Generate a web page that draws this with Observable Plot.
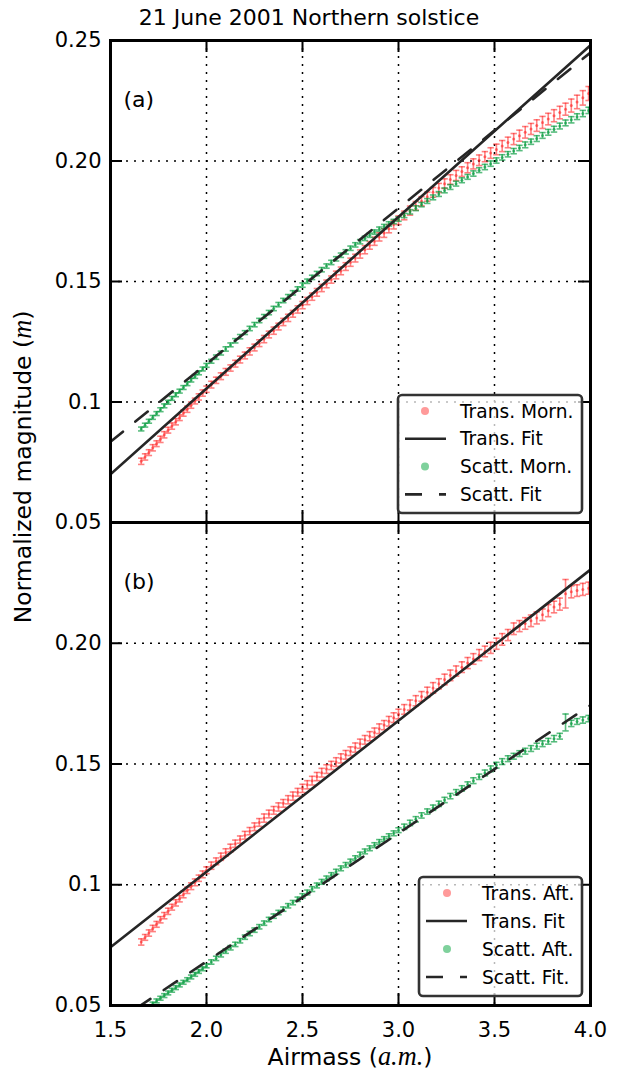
<!DOCTYPE html>
<html>
<head>
<meta charset="utf-8">
<script src="https://cdn.jsdelivr.net/npm/d3@7"></script>
<script src="https://cdn.jsdelivr.net/npm/@observablehq/plot@0.6"></script>
<style>
  html, body { margin: 0; padding: 0; background: #fff; }
  #wrap { position: relative; width: 618px; height: 1074px; overflow: hidden; font-family: "DejaVu Sans", sans-serif; }
  #wrap > svg { position: absolute; left: 0; overflow: visible; }
  .math { font-family: "Liberation Serif", serif; font-style: italic; font-size: 1.12em; }
</style>
</head>
<body>
<div id="wrap"></div>
<script>
// ---------------- data ----------------
const title = "21 June 2001 Northern solstice";
const xTicks = [1.5, 2.0, 2.5, 3.0, 3.5, 4.0];
const xTickLabels = ["1.5", "2.0", "2.5", "3.0", "3.5", "4.0"];
const yTicks = [0.05, 0.10, 0.15, 0.20, 0.25];
const yTickLabelsA = ["0.05", "0.1", "0.15", "0.20", "0.25"];
const yTickLabelsB = ["0.05", "0.1", "0.15", "0.20", ""];

// airmass sampling of the measurements
const airmass = [1.66,1.68,1.70,1.72,1.74,1.76,1.78,1.80,1.82,1.84,1.86,1.88,1.90,1.92,1.94,1.96,1.98,2.00,
2.025,2.05,2.075,2.10,2.125,2.15,2.175,2.20,2.225,2.25,2.275,2.30,2.325,2.35,2.375,2.40,2.425,2.45,2.475,2.50,
2.525,2.55,2.575,2.60,2.625,2.65,2.675,2.70,2.725,2.75,2.775,2.80,2.825,2.85,2.875,2.90,2.925,2.95,2.975,3.00,
3.03,3.06,3.09,3.12,3.15,3.18,3.21,3.24,3.27,3.30,3.33,3.36,3.39,3.42,3.45,3.48,3.51,3.54,3.57,3.60,3.63,3.66,3.69,3.72,3.75,3.78,3.81,3.84,3.87,3.90,3.93,3.96,3.99];

// (a) morning
const transMorn = [0.0754,0.0772,0.0790,0.0810,0.0827,0.0845,0.0864,0.0883,0.0900,0.0918,0.0935,0.0954,0.0970,0.0987,0.1004,0.1021,0.1037,0.1053,
0.1072,0.1090,0.1107,0.1125,0.1141,0.1159,0.1176,0.1193,0.1210,0.1226,0.1244,0.1261,0.1280,0.1296,0.1313,0.1332,0.1349,0.1366,0.1384,0.1402,
0.1419,0.1437,0.1455,0.1473,0.1490,0.1508,0.1527,0.1544,0.1562,0.1580,0.1597,0.1614,0.1632,0.1650,0.1667,0.1685,0.1701,0.1719,0.1736,0.1754,
0.1774,0.1794,0.1814,0.1833,0.1852,0.1870,0.1888,0.1906,0.1923,0.1940,0.1956,0.1972,0.1988,0.2003,0.2018,0.2033,0.2048,0.2062,0.2077,0.2091,0.2105,0.2119,0.2133,0.2147,0.2160,0.2174,0.2188,0.2201,0.2215,0.2230,0.2245,0.2262,0.2280];
const errTransMorn = [0.0013,0.0013,0.0012,0.0013,0.0012,0.0013,0.0013,0.0012,0.0013,0.0013,0.0012,0.0013,0.0013,0.0013,0.0012,0.0013,0.0013,0.0013,
0.0014,0.0013,0.0014,0.0014,0.0013,0.0014,0.0014,0.0014,0.0015,0.0014,0.0014,0.0015,0.0014,0.0015,0.0014,0.0015,0.0015,0.0014,0.0015,0.0015,
0.0015,0.0015,0.0016,0.0015,0.0016,0.0015,0.0016,0.0016,0.0016,0.0017,0.0016,0.0017,0.0017,0.0016,0.0017,0.0017,0.0018,0.0017,0.0018,0.0018,
0.0018,0.0019,0.0018,0.0019,0.0019,0.0020,0.0019,0.0020,0.0020,0.0021,0.0020,0.0021,0.0021,0.0022,0.0021,0.0022,0.0022,0.0023,0.0022,0.0023,0.0023,0.0024,0.0023,0.0024,0.0025,0.0024,0.0025,0.0026,0.0025,0.0027,0.0028,0.0030,0.0029];
const scattMorn = [0.0888,0.0904,0.0920,0.0936,0.0952,0.0968,0.0984,0.0999,0.1015,0.1030,0.1045,0.1060,0.1076,0.1091,0.1106,0.1121,0.1137,0.1152,
0.1169,0.1186,0.1203,0.1220,0.1237,0.1254,0.1271,0.1288,0.1305,0.1321,0.1338,0.1355,0.1371,0.1388,0.1404,0.1421,0.1437,0.1453,0.1469,0.1485,
0.1501,0.1517,0.1533,0.1549,0.1564,0.1579,0.1594,0.1609,0.1623,0.1638,0.1652,0.1665,0.1679,0.1692,0.1705,0.1717,0.1728,0.1739,0.1749,0.1759,
0.1774,0.1789,0.1804,0.1819,0.1834,0.1849,0.1863,0.1878,0.1892,0.1906,0.1920,0.1934,0.1948,0.1962,0.1975,0.1989,0.2002,0.2015,0.2028,0.2041,0.2054,0.2067,0.2080,0.2093,0.2106,0.2119,0.2132,0.2145,0.2158,0.2171,0.2184,0.2197,0.2210];
const errScattMorn = [0.0008,0.0008,0.0008,0.0008,0.0008,0.0008,0.0008,0.0008,0.0008,0.0008,0.0008,0.0008,0.0008,0.0008,0.0008,0.0008,0.0008,0.0008,
0.0008,0.0009,0.0008,0.0009,0.0008,0.0009,0.0009,0.0008,0.0009,0.0009,0.0009,0.0008,0.0009,0.0009,0.0009,0.0009,0.0009,0.0009,0.0009,0.0009,
0.0009,0.0009,0.0009,0.0009,0.0009,0.0009,0.0009,0.0009,0.0009,0.0009,0.0009,0.0009,0.0009,0.0009,0.0009,0.0009,0.0009,0.0009,0.0009,0.0009,
0.0009,0.0009,0.0010,0.0009,0.0010,0.0010,0.0010,0.0010,0.0010,0.0010,0.0010,0.0010,0.0011,0.0010,0.0011,0.0011,0.0011,0.0011,0.0011,0.0011,0.0011,0.0012,0.0011,0.0012,0.0012,0.0012,0.0012,0.0012,0.0012,0.0013,0.0012,0.0013,0.0013];

// (b) afternoon
const transAft = [0.0763,0.0782,0.0800,0.0819,0.0836,0.0855,0.0872,0.0890,0.0907,0.0925,0.0942,0.0960,0.0977,0.0994,0.1010,0.1027,0.1043,0.1060,
0.1079,0.1097,0.1116,0.1134,0.1152,0.1170,0.1187,0.1205,0.1222,0.1240,0.1258,0.1276,0.1293,0.1308,0.1322,0.1337,0.1352,0.1367,0.1383,0.1399,
0.1414,0.1431,0.1448,0.1464,0.1479,0.1494,0.1508,0.1523,0.1538,0.1553,0.1568,0.1584,0.1600,0.1615,0.1630,0.1646,0.1661,0.1677,0.1692,0.1707,
0.1726,0.1744,0.1762,0.1780,0.1797,0.1815,0.1832,0.1850,0.1867,0.1885,0.1901,0.1918,0.1935,0.1951,0.1966,0.1981,0.1998,0.2016,0.2034,0.2060,0.2071,0.2082,0.2093,0.2105,0.2118,0.2135,0.2150,0.2162,0.2205,0.2213,0.2218,0.2223,0.2228];
const errTransAft = [0.0013,0.0012,0.0013,0.0013,0.0012,0.0013,0.0013,0.0013,0.0012,0.0013,0.0013,0.0014,0.0013,0.0014,0.0014,0.0013,0.0014,0.0014,
0.0015,0.0014,0.0015,0.0015,0.0016,0.0015,0.0015,0.0016,0.0015,0.0016,0.0016,0.0017,0.0016,0.0016,0.0017,0.0016,0.0017,0.0017,0.0016,0.0017,
0.0017,0.0018,0.0017,0.0018,0.0018,0.0017,0.0018,0.0019,0.0018,0.0018,0.0019,0.0019,0.0018,0.0019,0.0019,0.0020,0.0019,0.0020,0.0020,0.0020,
0.0020,0.0021,0.0021,0.0020,0.0021,0.0022,0.0021,0.0022,0.0022,0.0021,0.0022,0.0023,0.0022,0.0023,0.0022,0.0023,0.0023,0.0024,0.0023,0.0024,0.0023,0.0024,0.0024,0.0025,0.0024,0.0025,0.0024,0.0025,0.0059,0.0025,0.0024,0.0025,0.0025];
const scattAft = [null,null,null,0.0506,0.0519,0.0530,0.0541,0.0552,0.0563,0.0574,0.0585,0.0596,0.0607,0.0618,0.0629,0.0641,0.0652,0.0664,
0.0680,0.0695,0.0710,0.0725,0.0739,0.0753,0.0768,0.0783,0.0798,0.0812,0.0826,0.0841,0.0856,0.0870,0.0885,0.0899,0.0913,0.0926,0.0940,0.0954,
0.0968,0.0982,0.0997,0.1012,0.1026,0.1040,0.1054,0.1068,0.1082,0.1096,0.1110,0.1125,0.1138,0.1151,0.1164,0.1177,0.1189,0.1201,0.1213,0.1226,
0.1240,0.1256,0.1271,0.1287,0.1303,0.1319,0.1335,0.1351,0.1367,0.1383,0.1399,0.1415,0.1431,0.1447,0.1463,0.1480,0.1495,0.1510,0.1522,0.1532,0.1543,0.1553,0.1564,0.1574,0.1584,0.1594,0.1605,0.1615,0.1672,0.1668,0.1676,0.1682,0.1688];
const errScattAft = [0.0008,0.0008,0.0008,0.0008,0.0008,0.0008,0.0008,0.0008,0.0008,0.0008,0.0008,0.0008,0.0008,0.0008,0.0008,0.0008,0.0008,0.0008,
0.0009,0.0009,0.0009,0.0009,0.0009,0.0009,0.0009,0.0009,0.0009,0.0009,0.0009,0.0009,0.0009,0.0009,0.0009,0.0009,0.0009,0.0009,0.0009,0.0009,
0.0010,0.0010,0.0010,0.0010,0.0010,0.0010,0.0010,0.0010,0.0010,0.0010,0.0010,0.0010,0.0010,0.0010,0.0010,0.0010,0.0010,0.0010,0.0010,0.0010,
0.0011,0.0011,0.0011,0.0011,0.0011,0.0011,0.0011,0.0011,0.0011,0.0011,0.0011,0.0011,0.0012,0.0011,0.0012,0.0012,0.0012,0.0012,0.0012,0.0012,0.0012,0.0012,0.0012,0.0012,0.0012,0.0012,0.0013,0.0012,0.0035,0.0013,0.0012,0.0013,0.0013];

// linear fits (end points over the x range)
const fitX = [1.5, 4.0];
const fitTransMorn = [0.0700, 0.2480];
const fitScattMorn = [0.0835, 0.2450];
const fitTransAft = [0.0741, 0.2305];
const fitScattAft = [0.0417, 0.1744];

const legendA = ["Trans. Morn.", "Trans. Fit", "Scatt. Morn.", "Scatt. Fit"];
const legendB = ["Trans. Aft.", "Trans. Fit", "Scatt. Aft.", "Scatt. Fit."];

// ---------------- styling ----------------
const RED = "#ff1a1a", GREEN = "#009a3a";
const LEG_RED = "#ff9a9a", LEG_GREEN = "#7fd19c";
const FIT = "#262626";
const W = 618, ML = 110, MR = 28;
const capSymbol = { draw(ctx, size) { const w = Math.sqrt(size / Math.PI); ctx.moveTo(-w, 0); ctx.lineTo(w, 0); } };

function rows(ys, es) {
  return airmass.map((x, i) => ({ x, y: ys[i], e: es[i] })).filter(d => d.y != null);
}
function errMarks(data, color, op) {
  const common = { stroke: color, strokeOpacity: op, strokeWidth: 1.6, clip: true };
  return [
    Plot.ruleX(data, { x: "x", y1: d => d.y - d.e, y2: d => d.y + d.e, ...common }),
    Plot.dot(data, { x: "x", y: d => d.y - d.e, symbol: capSymbol, r: 3.2, ...common }),
    Plot.dot(data, { x: "x", y: d => d.y + d.e, symbol: capSymbol, r: 3.2, ...common }),
    Plot.dot(data, { x: "x", y: "y", r: 1.5, fill: color, fillOpacity: op, stroke: "none", clip: true })
  ];
}

function panel({ top, height, marginTop, marginBottom, showX, yLabels, tag, tY, eT, sY, eS, fitT, fitS }) {
  const plotH = height - marginTop - marginBottom;
  const plotW = W - ML - MR;
  const yLab = new Map(yTicks.map((v, i) => [v, yLabels[i]]));
  const xLab = new Map(xTicks.map((v, i) => [v, xTickLabels[i]]));
  const fT = fitX.map((x, i) => ({ x, y: fitT[i] }));
  const fS = fitX.map((x, i) => ({ x, y: fitS[i] }));
  const tick = { stroke: "black", strokeWidth: 2 };
  const svg = Plot.plot({
    width: W, height, marginLeft: ML, marginRight: MR, marginTop, marginBottom,
    style: { fontFamily: "'DejaVu Sans', sans-serif", fontSize: "21px", background: "transparent", color: "black", overflow: "visible" },
    x: { domain: [1.5, 4.0], ticks: xTicks, tickFormat: d => xLab.get(d), tickSize: 0, tickPadding: 17, label: null, axis: showX ? "bottom" : null },
    y: { domain: [0.05, 0.25], ticks: yTicks, tickFormat: d => yLab.get(d), tickSize: 0, tickPadding: 9, label: null },
    marks: [
      Plot.ruleX(xTicks, { stroke: "black", strokeWidth: 1.5, strokeDasharray: "2,6" }),
      Plot.ruleY(yTicks, { stroke: "black", strokeWidth: 1.5, strokeDasharray: "2,6" }),
      ...errMarks(rows(tY, eT), RED, 0.55),
      ...errMarks(rows(sY, eS), GREEN, 0.65),
      Plot.line(fT, { x: "x", y: "y", stroke: FIT, strokeWidth: 2.6, clip: true }),
      Plot.line(fS, { x: "x", y: "y", stroke: FIT, strokeWidth: 2.6, strokeDasharray: "16,16", clip: true }),
      Plot.ruleX(xTicks, { ...tick, insetBottom: plotH - 12 }),
      Plot.ruleX(xTicks, { ...tick, insetTop: plotH - 12 }),
      Plot.ruleY(yTicks, { ...tick, insetRight: plotW - 12 }),
      Plot.ruleY(yTicks, { ...tick, insetLeft: plotW - 12 }),
      Plot.frame({ stroke: "black", strokeWidth: 3 }),
      Plot.text([tag], { text: d => d, frameAnchor: "top-left", dx: 13, dy: 51, textAnchor: "start", fontSize: 22 })
    ]
  });
  svg.style.top = top + "px";
  return svg;
}

const wrap = document.getElementById("wrap");
wrap.appendChild(panel({ top: 522, height: 552, marginTop: 0, marginBottom: 69, showX: true, yLabels: yTickLabelsB, tag: "(b)",
  tY: transAft, eT: errTransAft, sY: scattAft, eS: errScattAft, fitT: fitTransAft, fitS: fitScattAft }));
wrap.appendChild(panel({ top: 0, height: 522, marginTop: 40, marginBottom: 0, showX: false, yLabels: yTickLabelsA, tag: "(a)",
  tY: transMorn, eT: errTransMorn, sY: scattMorn, eS: errScattMorn, fitT: fitTransMorn, fitS: fitScattMorn }));

// legends
function legend(labels, box) {
  const svg = d3.create("svg").attr("width", box.w + 6).attr("height", box.h + 6)
    .style("position", "absolute").style("left", (box.x - 3) + "px").style("top", (box.y - 3) + "px");
  svg.append("rect").attr("x", 3).attr("y", 3).attr("width", box.w).attr("height", box.h).attr("rx", 4)
    .attr("fill", "white").attr("fill-opacity", 0.72).attr("stroke", "#333").attr("stroke-width", 2.6);
  const kinds = ["dotR", "solid", "dotG", "dash"];
  labels.forEach((lab, i) => {
    const cy = 3 + box.rowTop + i * box.rowGap;
    const k = kinds[i];
    if (k === "dotR" || k === "dotG") {
      svg.append("circle").attr("cx", 3 + box.mx).attr("cy", cy).attr("r", 4).attr("fill", k === "dotR" ? LEG_RED : LEG_GREEN);
    } else {
      svg.append("line").attr("x1", 3 + box.lx1).attr("x2", 3 + box.lx2).attr("y1", cy).attr("y2", cy)
        .attr("stroke", FIT).attr("stroke-width", 2.6).attr("stroke-dasharray", k === "dash" ? "17,17" : null);
    }
    svg.append("text").attr("x", 3 + box.tx).attr("y", cy).attr("dy", "0.36em")
      .attr("font-family", "'DejaVu Sans', sans-serif").attr("font-size", 18.6).attr("fill", "black").text(lab);
  });
  wrap.appendChild(svg.node());
}
legend(legendA, { x: 398, y: 395, w: 184, h: 118, rowTop: 16, rowGap: 27.8, mx: 27, lx1: 7, lx2: 48, tx: 62 });
legend(legendB, { x: 419, y: 877, w: 163, h: 119, rowTop: 16, rowGap: 28, mx: 28, lx1: 7, lx2: 48, tx: 63 });

// titles and axis labels
function addText(html, css) {
  const d = document.createElement("div");
  d.innerHTML = html;
  Object.assign(d.style, { position: "absolute", whiteSpace: "nowrap", color: "black", fontSize: "22px", lineHeight: "1" }, css);
  wrap.appendChild(d);
}
addText(title, { left: "309px", top: "18px", transform: "translate(-50%,-50%)" });
addText('Airmass (<span class="math">a.m.</span>)', { left: "350px", top: "1057px", fontSize: "23.5px", transform: "translate(-50%,-50%)" });
addText('Normalized magnitude (<span class="math">m</span>)', { left: "23px", top: "467px", fontSize: "23.5px", transform: "translate(-50%,-50%) rotate(-90deg)" });
</script>
</body>
</html>
